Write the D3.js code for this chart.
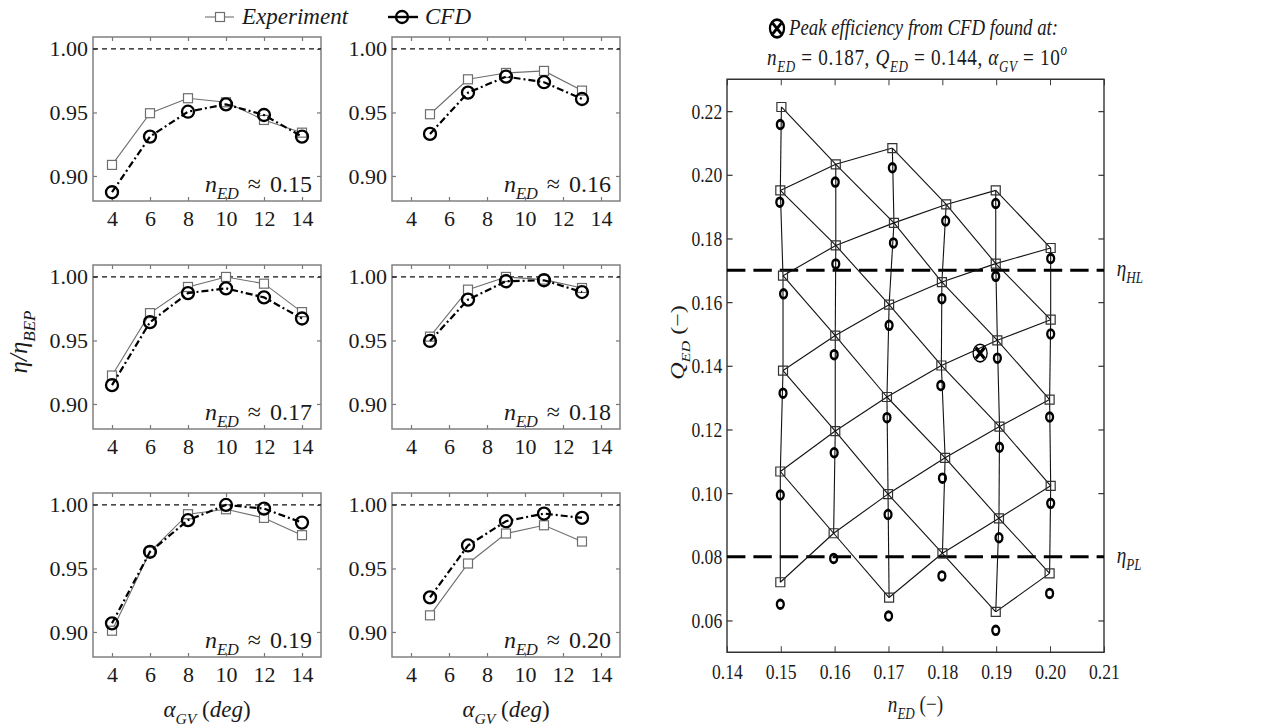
<!DOCTYPE html>
<html>
<head>
<meta charset="utf-8">
<script src="https://cdn.jsdelivr.net/npm/d3@7"></script>
<style>
  body { margin: 0; background: #fff; }
</style>
</head>
<body>
<div id="chart"></div>
<script>
// ---- data ----
// left panels: guide vane angle vs normalised efficiency
const alphaOdd = [4, 6, 8, 10, 12, 14];
const alphaEven = [5, 7, 9, 11, 13];
const alphaTicks = [4, 6, 8, 10, 12, 14];
const effTicks = [0.90, 0.95, 1.00];
const panelNed = ["0.15", "0.16", "0.17", "0.18", "0.19", "0.20"];
const effExp = [
  [0.9087, 0.9494, 0.9612, 0.9580, 0.9441, 0.9341],
  [0.9486, 0.9761, 0.9811, 0.9827, 0.9672],
  [0.9224, 0.9715, 0.9921, 1.0000, 0.9947, 0.9723],
  [0.9530, 0.9900, 1.0000, 0.9979, 0.9913],
  [0.9010, 0.9631, 0.9927, 0.9966, 0.9898, 0.9762],
  [0.9131, 0.9539, 0.9775, 0.9840, 0.9712]
];
const effCfd = [
  [0.8872, 0.9310, 0.9506, 0.9564, 0.9480, 0.9310],
  [0.9331, 0.9656, 0.9782, 0.9738, 0.9606],
  [0.9148, 0.9644, 0.9873, 0.9910, 0.9839, 0.9673],
  [0.9496, 0.9821, 0.9966, 0.9974, 0.9881],
  [0.9068, 0.9631, 0.9880, 1.0000, 0.9971, 0.9861],
  [0.9272, 0.9681, 0.9872, 0.9932, 0.9898]
];

// right chart: operating points per n_ED column, ordered from high to low guide vane angle
const expNed = [
  [0.1501, 0.1499, 0.1504, 0.1504, 0.1499, 0.1499],
  [0.1602, 0.1602, 0.1601, 0.1601, 0.1598],
  [0.1707, 0.1710, 0.1701, 0.1697, 0.1699, 0.1701],
  [0.1807, 0.1799, 0.1798, 0.1805, 0.1800],
  [0.1899, 0.1899, 0.1902, 0.1906, 0.1905, 0.1899],
  [0.2001, 0.2001, 0.1999, 0.2001, 0.1999]
];
const expQed = [
  [0.2213, 0.1951, 0.1683, 0.1385, 0.1068, 0.0720],
  [0.2033, 0.1778, 0.1495, 0.1195, 0.0874],
  [0.2084, 0.1849, 0.1592, 0.1302, 0.0997, 0.0672],
  [0.1907, 0.1663, 0.1401, 0.1111, 0.0811],
  [0.1951, 0.1721, 0.1480, 0.1209, 0.0921, 0.0627],
  [0.1770, 0.1545, 0.1294, 0.1023, 0.0748]
];
const cfdNed = [
  [0.1499, 0.1498, 0.1505, 0.1504, 0.1499, 0.1499],
  [0.1601, 0.1602, 0.1599, 0.1599, 0.1598],
  [0.1707, 0.1709, 0.1701, 0.1697, 0.1699, 0.1700],
  [0.1806, 0.1799, 0.1797, 0.1800, 0.1799],
  [0.1899, 0.1899, 0.1902, 0.1906, 0.1905, 0.1899],
  [0.2001, 0.2001, 0.1999, 0.2001, 0.1999]
];
const cfdQed = [
  [0.2158, 0.1914, 0.1626, 0.1314, 0.0994, 0.0651],
  [0.1977, 0.1720, 0.1435, 0.1127, 0.0795],
  [0.2022, 0.1786, 0.1527, 0.1237, 0.0933, 0.0614],
  [0.1855, 0.1611, 0.1338, 0.1047, 0.0740],
  [0.1910, 0.1681, 0.1424, 0.1144, 0.0860, 0.0569],
  [0.1737, 0.1500, 0.1239, 0.0968, 0.0685]
];
const peakPoint = { ned: 0.187, qed: 0.144 };
const limitLines = [{ q: 0.17, label: "HL" }, { q: 0.08, label: "PL" }];
const nedTicks = [0.14, 0.15, 0.16, 0.17, 0.18, 0.19, 0.20, 0.21];
const qedTicks = [0.06, 0.08, 0.10, 0.12, 0.14, 0.16, 0.18, 0.20, 0.22];

const SERIF = "'Liberation Serif', 'Times New Roman', Times, serif";

// ---- setup ----
const svg = d3.select("#chart").append("svg")
  .attr("width", 1266)
  .attr("height", 728)
  .style("font-family", SERIF);

// writes a little math-like string made of italic/upright/sub/sup pieces
function addParts(txt, parts, size) {
  let shift = 0;
  txt.style("font-family", SERIF);
  parts.forEach(function(p) {
    const kind = p[1];
    const target = kind === "sub" ? size * 0.3 : (kind === "sup" ? -size * 0.4 : 0);
    txt.append("tspan")
      .attr("dy", target - shift)
      .style("font-size", ((kind === "sub" || kind === "sup") ? size * 0.68 : size) + "px")
      .style("font-style", kind === "r" ? "normal" : "italic")
      .text(p[0]);
    shift = target;
  });
}

function styleAxis(g, size, col) {
  g.style("font-family", SERIF).style("font-size", size + "px");
  g.select(".domain").remove();
  g.selectAll(".tick line").attr("stroke", col).attr("stroke-width", 1.2);
  g.selectAll(".tick text").attr("fill", "#1a1a1a");
}

// ---- left panels ----
const panelW = 228, panelH = 164;
const colX = [93, 392], rowY = [37, 265, 493];

var x = d3.scaleLinear().domain([3, 15]).range([0, panelW]);
var y = d3.scaleLinear().domain([0.8803, 1.0094]).range([panelH, 0]);
const fmt2 = d3.format(".2f");

panelNed.forEach(function(label, p) {
  const g = svg.append("g")
    .attr("transform", "translate(" + colX[p % 2] + "," + rowY[Math.floor(p / 2)] + ")");
  const alphas = p % 2 === 0 ? alphaOdd : alphaEven;

  // axes with inward ticks on every side
  g.append("g").attr("transform", "translate(0," + panelH + ")")
    .call(d3.axisBottom(x).tickValues(alphaTicks).tickSize(-4).tickPadding(9))
    .call(styleAxis, 22, "#777");
  g.append("g")
    .call(d3.axisTop(x).tickValues(alphaTicks).tickSize(-4).tickFormat(""))
    .call(styleAxis, 22, "#777");
  g.append("g")
    .call(d3.axisLeft(y).tickValues(effTicks).tickSize(-4).tickPadding(5).tickFormat(fmt2))
    .call(styleAxis, 22, "#777");
  g.append("g").attr("transform", "translate(" + panelW + ",0)")
    .call(d3.axisRight(y).tickValues(effTicks).tickSize(-4).tickFormat(""))
    .call(styleAxis, 22, "#777");

  g.append("rect")
    .attr("width", panelW).attr("height", panelH)
    .attr("fill", "none").attr("stroke", "#808080").attr("stroke-width", 1.5);

  // reference line at 1.00
  g.append("line")
    .attr("x1", 0).attr("x2", panelW)
    .attr("y1", y(1)).attr("y2", y(1))
    .attr("stroke", "#111").attr("stroke-width", 1.3).attr("stroke-dasharray", "5,4");

  const expPts = alphas.map((a, i) => [a, effExp[p][i]]);
  const cfdPts = alphas.map((a, i) => [a, effCfd[p][i]]);
  const line = d3.line().x(d => x(d[0])).y(d => y(d[1]));

  g.append("path").attr("d", line(expPts))
    .attr("fill", "none").attr("stroke", "#6e6e6e").attr("stroke-width", 1.1);
  g.selectAll(".sq").data(expPts).enter().append("rect")
    .attr("x", d => x(d[0]) - 4.5).attr("y", d => y(d[1]) - 4.5)
    .attr("width", 9).attr("height", 9)
    .attr("fill", "#fff").attr("stroke", "#6e6e6e").attr("stroke-width", 1.2);

  g.append("path").attr("d", line(cfdPts))
    .attr("fill", "none").attr("stroke", "#000").attr("stroke-width", 2.2)
    .attr("stroke-dasharray", "7,3,2,3");
  g.selectAll(".ci").data(cfdPts).enter().append("circle")
    .attr("cx", d => x(d[0])).attr("cy", d => y(d[1])).attr("r", 6)
    .attr("fill", "none").attr("stroke", "#000").attr("stroke-width", 2.3);

  const t = g.append("text")
    .attr("x", panelW - 9).attr("y", panelH - 9)
    .attr("text-anchor", "end").attr("fill", "#1a1a1a")
    .style("word-spacing", "3px");
  addParts(t, [["n", "i"], ["ED", "sub"], [" \u2248 " + label, "r"]], 24);
});

// left axis titles
const yTitle = svg.append("text")
  .attr("transform", "translate(27,342) rotate(-90)")
  .attr("text-anchor", "middle").attr("fill", "#1a1a1a");
addParts(yTitle, [["\u03B7/\u03B7", "i"], ["BEP", "sub"]], 25);

[207, 506].forEach(function(cx) {
  const t = svg.append("text")
    .attr("x", cx).attr("y", 717)
    .attr("text-anchor", "middle").attr("fill", "#1a1a1a");
  addParts(t, [["\u03B1", "i"], ["GV", "sub"], [" (", "r"], ["deg", "i"], [")", "r"]], 23);
});

// legend
svg.append("line").attr("x1", 205).attr("x2", 234).attr("y1", 17).attr("y2", 17)
  .attr("stroke", "#6e6e6e").attr("stroke-width", 1.1);
svg.append("rect").attr("x", 215.5).attr("y", 12.5).attr("width", 9).attr("height", 9)
  .attr("fill", "#fff").attr("stroke", "#6e6e6e").attr("stroke-width", 1.2);
const lg1 = svg.append("text").attr("x", 242).attr("y", 24).attr("fill", "#1a1a1a");
addParts(lg1, [["Experiment", "i"]], 23);
svg.append("line").attr("x1", 388).attr("x2", 418).attr("y1", 17).attr("y2", 17)
  .attr("stroke", "#000").attr("stroke-width", 2.4);
svg.append("circle").attr("cx", 402).attr("cy", 17).attr("r", 6)
  .attr("fill", "none").attr("stroke", "#000").attr("stroke-width", 2.3);
const lg2 = svg.append("text").attr("x", 425).attr("y", 24).attr("fill", "#1a1a1a");
addParts(lg2, [["CFD", "i"]], 23);

// ---- right chart (figure is horizontally squeezed, so draw it in a scaled group) ----
const sx = 0.8;
const rW = 377 / sx, rH = 573;
const rc = svg.append("g").attr("transform", "translate(727,79.3) scale(" + sx + ",1)");

var xN = d3.scaleLinear().domain([0.14, 0.21]).range([0, rW]);
var yQ = d3.scaleLinear().domain([0.05, 0.23]).range([rH, 0]);

rc.append("g").attr("transform", "translate(0," + rH + ")")
  .call(d3.axisBottom(xN).tickValues(nedTicks).tickSize(-6).tickPadding(11.5).tickFormat(fmt2))
  .call(styleAxis, 22, "#333");
rc.append("g")
  .call(d3.axisTop(xN).tickValues(nedTicks).tickSize(-6).tickFormat(""))
  .call(styleAxis, 22, "#333");
rc.append("g")
  .call(d3.axisLeft(yQ).tickValues(qedTicks).tickSize(-7).tickPadding(6).tickFormat(fmt2))
  .call(styleAxis, 22, "#333");
rc.append("g").attr("transform", "translate(" + rW + ",0)")
  .call(d3.axisRight(yQ).tickValues(qedTicks).tickSize(-7).tickFormat(""))
  .call(styleAxis, 22, "#333");
rc.append("rect").attr("width", rW).attr("height", rH)
  .attr("fill", "none").attr("stroke", "#333").attr("stroke-width", 1.4)
  .attr("vector-effect", "non-scaling-stroke");

// limit lines
limitLines.forEach(function(l) {
  rc.append("line")
    .attr("x1", 0).attr("x2", rW).attr("y1", yQ(l.q)).attr("y2", yQ(l.q))
    .attr("stroke", "#000").attr("stroke-width", 3)
    .attr("stroke-dasharray", "23,10");
  const t = rc.append("text").attr("x", rW + 16).attr("y", yQ(l.q) + 6).attr("fill", "#1a1a1a");
  addParts(t, [["\u03B7", "i"], [l.label, "sub"]], 24);
});

// experiment mesh: same column, and neighbouring columns one degree apart
const cols = expNed.map(function(ns, c) {
  const alphas = (c % 2 === 0 ? alphaOdd : alphaEven).slice().reverse();
  return ns.map((n, i) => ({ n: n, q: expQed[c][i], a: alphas[i] }));
});
const segs = [];
cols.forEach(function(pts, c) {
  pts.forEach(function(pt, i) {
    if (i + 1 < pts.length) segs.push([pt, pts[i + 1]]);
    if (c + 1 < cols.length) {
      cols[c + 1].forEach(function(nx) {
        if (Math.abs(nx.a - pt.a) === 1) segs.push([pt, nx]);
      });
    }
  });
});
const mline = d3.line().x(d => xN(d.n)).y(d => yQ(d.q));
rc.append("g").selectAll("path").data(segs).enter().append("path")
  .attr("d", mline)
  .attr("fill", "none").attr("stroke", "#111").attr("stroke-width", 1.1)
  .attr("vector-effect", "non-scaling-stroke");

const allExp = [].concat(...cols);
rc.append("g").selectAll("rect").data(allExp).enter().append("rect")
  .attr("x", d => xN(d.n) - 4.5 / sx).attr("y", d => yQ(d.q) - 4.5)
  .attr("width", 9 / sx).attr("height", 9)
  .attr("fill", "none").attr("stroke", "#333").attr("stroke-width", 1.2)
  .attr("vector-effect", "non-scaling-stroke");

const allCfd = [];
cfdNed.forEach((ns, c) => ns.forEach((n, i) => allCfd.push({ n: n, q: cfdQed[c][i] })));
rc.append("g").selectAll("circle").data(allCfd).enter().append("circle")
  .attr("cx", d => xN(d.n)).attr("cy", d => yQ(d.q)).attr("r", 4.3)
  .attr("fill", "none").attr("stroke", "#000").attr("stroke-width", 2.9);

// peak marker
function otimes(parent, cx, cy, r, sw, xw) {
  parent.append("circle").attr("cx", cx).attr("cy", cy).attr("r", r)
    .attr("fill", "none").attr("stroke", "#000").attr("stroke-width", sw);
  const k = r * 0.62;
  parent.append("path")
    .attr("d", "M" + (cx - k) + "," + (cy - k) + "L" + (cx + k) + "," + (cy + k) +
               "M" + (cx - k) + "," + (cy + k) + "L" + (cx + k) + "," + (cy - k))
    .attr("stroke", "#000").attr("stroke-width", xw);
}
otimes(rc, xN(peakPoint.ned), yQ(peakPoint.qed), 8.8, 1.6, 3.6);

// title
otimes(rc, (777 - 727) / sx, 28.5 - 79.3, 8.8, 2.8, 3.3);
const t1 = rc.append("text").attr("x", (789 - 727) / sx).attr("y", 35 - 79.3).attr("fill", "#1a1a1a");
addParts(t1, [["Peak efficiency from CFD found at:", "i"]], 23.5);
const t2 = rc.append("text").attr("x", (767 - 727) / sx).attr("y", 65 - 79.3)
  .attr("textLength", 300 / sx).attr("lengthAdjust", "spacing")
  .attr("fill", "#1a1a1a");
addParts(t2, [["n", "i"], ["ED", "sub"], [" = " + peakPoint.ned + ", ", "r"],
              ["Q", "i"], ["ED", "sub"], [" = " + peakPoint.qed + ", ", "r"],
              ["\u03B1", "i"], ["GV", "sub"], [" = 10", "r"], ["o", "sup"]], 24);

// axis titles
const qt = rc.append("text")
  .attr("transform", "translate(" + ((684 - 727) / sx) + "," + (342.5 - 79.3) + ") rotate(-90)")
  .attr("text-anchor", "middle").attr("fill", "#1a1a1a");
addParts(qt, [["Q", "i"], ["ED", "sub"], [" (\u2212)", "r"]], 24);
const nt = rc.append("text")
  .attr("x", rW / 2).attr("y", 712 - 79.3)
  .attr("text-anchor", "middle").attr("fill", "#1a1a1a");
addParts(nt, [["n", "i"], ["ED", "sub"], [" (\u2212)", "r"]], 24);
</script>
</body>
</html>
